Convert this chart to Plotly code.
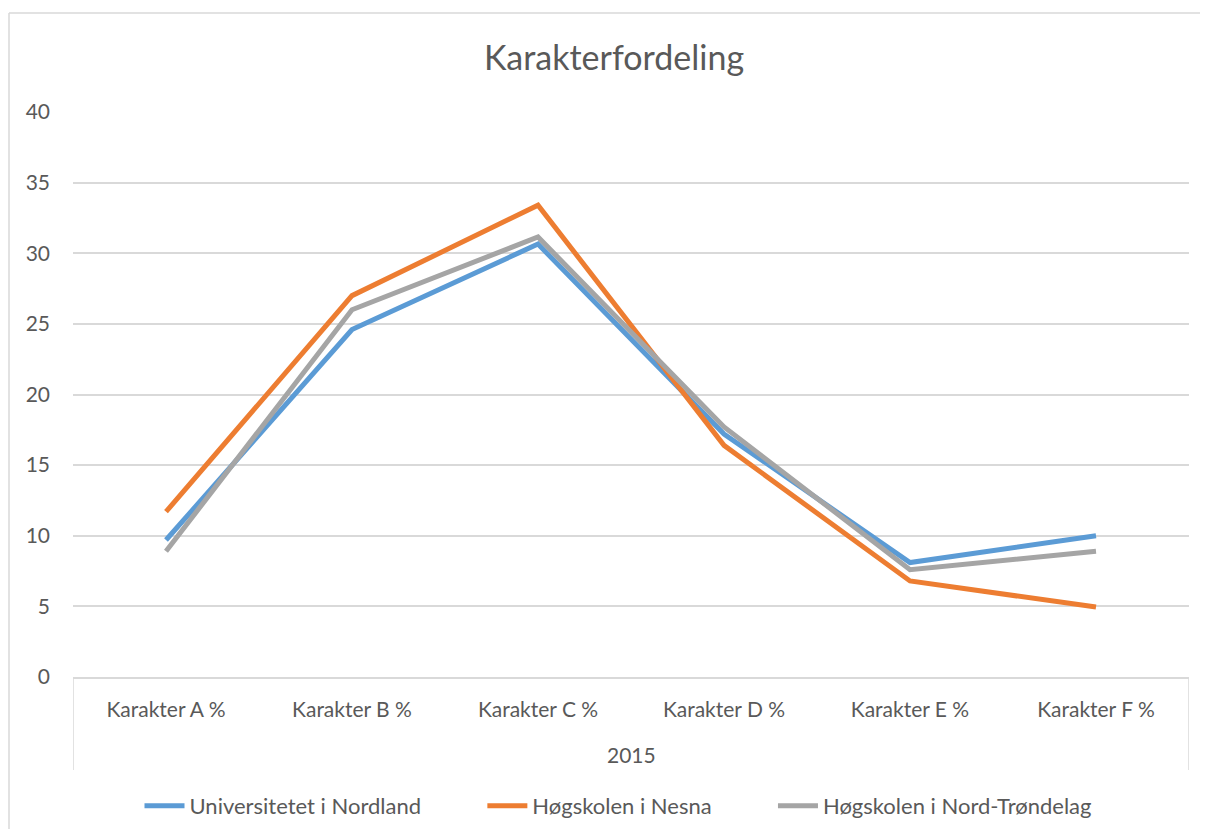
import plotly.graph_objects as go

categories = ["Karakter A %", "Karakter B %", "Karakter C %", "Karakter D %", "Karakter E %", "Karakter F %"]
group_label = "2015"
series_names = ["Universitetet i Nordland", "Høgskolen i Nesna", "Høgskolen i Nord-Trøndelag"]
nordland = [9.7, 24.6, 30.65, 17.2, 8.1, 10.0]
nesna = [11.7, 27.0, 33.4, 16.4, 6.8, 4.95]
nord_trondelag = [8.9, 26.0, 31.15, 17.7, 7.6, 8.9]
colors = ["#5B9BD5", "#ED7D31", "#A5A5A5"]
y_ticks = [0, 5, 10, 15, 20, 25, 30, 35, 40]

FONT = "Lato"
TXT = "#595959"
GRID = "#D9D9D9"

# page body has an 8px margin; keep the figure inside the window
OFF = 8
W, H = 1192, 821
L, R, T = 73 - OFF, 11, 112 - OFF
B = H - (677 - OFF)
PW = W - L - R
PH = H - T - B


def px_to_paper_x(px):
    return (px - OFF - L) / PW


def px_to_paper_y(py):
    return (677 - py) / PH


pad = "\u00a0" * 10
fig = go.Figure()
for i, (name, vals, col) in enumerate(zip(series_names, [nordland, nesna, nord_trondelag], colors)):
    fig.add_trace(go.Scatter(
        x=categories, y=vals, name=name + (pad if i < len(series_names) - 1 else ""),
        mode="lines", line=dict(color=col, width=5),
        hoverinfo="skip",
    ))

fig.update_layout(
    width=W, height=H,
    margin=dict(l=L, r=R, t=T, b=B, autoexpand=False),
    paper_bgcolor="white", plot_bgcolor="white",
    font=dict(family=FONT, color=TXT, size=21),
    title=dict(text="Karakterfordeling", x=px_to_paper_x(614), xanchor="center", xref="paper",
               y=1 - (58 - OFF) / H, yanchor="middle",
               font=dict(family=FONT, size=34, color=TXT)),
    showlegend=True,
    legend=dict(orientation="h", x=px_to_paper_x(618), xanchor="center",
                y=px_to_paper_y(806), yanchor="middle",
                font=dict(family=FONT, size=22, color=TXT), itemwidth=40,
                traceorder="normal"),
    xaxis=dict(type="category", range=[-0.5, len(categories) - 0.5],
               showline=True, linecolor=GRID, linewidth=1.5,
               showgrid=False, ticks="", ticklabelstandoff=13,
               tickfont=dict(family=FONT, size=21, color=TXT)),
    yaxis=dict(range=[0, 40], tickvals=y_ticks, showgrid=True, gridcolor=GRID, gridwidth=1.5,
               zeroline=False, showline=False, ticks="", ticklabelstandoff=22,
               tickfont=dict(family=FONT, size=21, color=TXT)),
)

# group label under the categories
fig.add_annotation(text=group_label, x=(len(categories) - 1) / 2, xref="x",
                   y=px_to_paper_y(754), yref="paper", yanchor="middle",
                   showarrow=False, font=dict(family=FONT, size=21, color=TXT))

# group dividers at both ends of the category axis
for xv in [-0.5, len(categories) - 0.5]:
    fig.add_shape(type="line", xref="x", yref="paper", x0=xv, x1=xv, y0=0, y1=px_to_paper_y(770),
                  line=dict(color=GRID, width=1.5))

# chart area border: only the left and top edges are inside the view
bx, by = px_to_paper_x(9), px_to_paper_y(13)
fig.add_shape(type="line", xref="paper", yref="paper", x0=bx, x1=bx, y0=-0.6, y1=by,
              line=dict(color=GRID, width=1.5), layer="below")
fig.add_shape(type="line", xref="paper", yref="paper", x0=bx, x1=1.2, y0=by, y1=by,
              line=dict(color=GRID, width=1.5), layer="below")

fig.write_html("out.html")
